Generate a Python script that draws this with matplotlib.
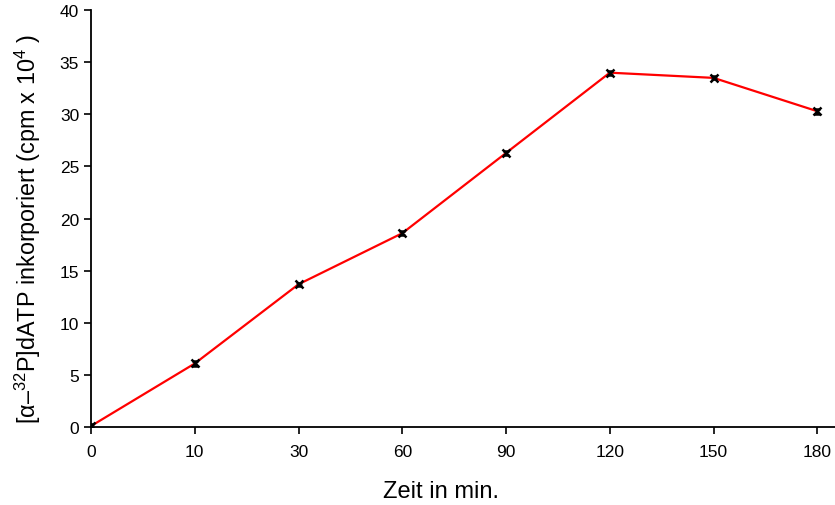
import matplotlib
matplotlib.use('Agg')
import matplotlib.pyplot as plt
import numpy as np

plt.rcParams['font.family'] = ['Liberation Sans', 'DejaVu Sans']
plt.rcParams['mathtext.fontset'] = 'custom'
plt.rcParams['mathtext.rm'] = 'Liberation Sans'
plt.rcParams['mathtext.it'] = 'Liberation Sans:italic'

zeit = ['0', '10', '30', '60', '90', '120', '150', '180']
cpm = [0.1, 6.1, 13.7, 18.6, 26.3, 34.0, 33.5, 30.3]
fehler = [0.2, 0.2, 0.15, 0.2, 0.2, 0.2, 0.15, 0.25]

fig = plt.figure(figsize=(8.35, 5.06), dpi=100)
ax = fig.add_axes([0.109, 0.154, 0.891, 0.824])

x = np.arange(len(zeit))
ax.plot(x, cpm, color='red', lw=1.6, zorder=2)
ax.errorbar(x, cpm, yerr=fehler, fmt='x', color='black', ms=5.5, mew=1.8,
            elinewidth=1, capsize=2.5, zorder=3)

ax.set_xlim(0, 7.17)
ax.set_ylim(0, 40)
ax.set_yticks(range(0, 41, 5))
ax.set_xticks(x)
ax.set_xticklabels(zeit)
ax.spines['top'].set_visible(False)
ax.spines['right'].set_visible(False)
for s in ['left', 'bottom']:
    ax.spines[s].set_linewidth(1.3)
ax.tick_params(direction='out', length=5, width=1.2, labelsize=12.5)
ax.tick_params(axis='x', pad=7)
ax.set_xlabel('Zeit in min.', fontsize=17, va='center')
ax.xaxis.set_label_coords(0.47, -0.154)
ax.set_ylabel(r'[α–$^{32}$P]dATP inkorporiert (cpm x 10$^{4}$ )', fontsize=16.8, va='center')
ax.yaxis.set_label_coords(-0.085, 0.477)

fig.savefig('out.png', dpi=100)
